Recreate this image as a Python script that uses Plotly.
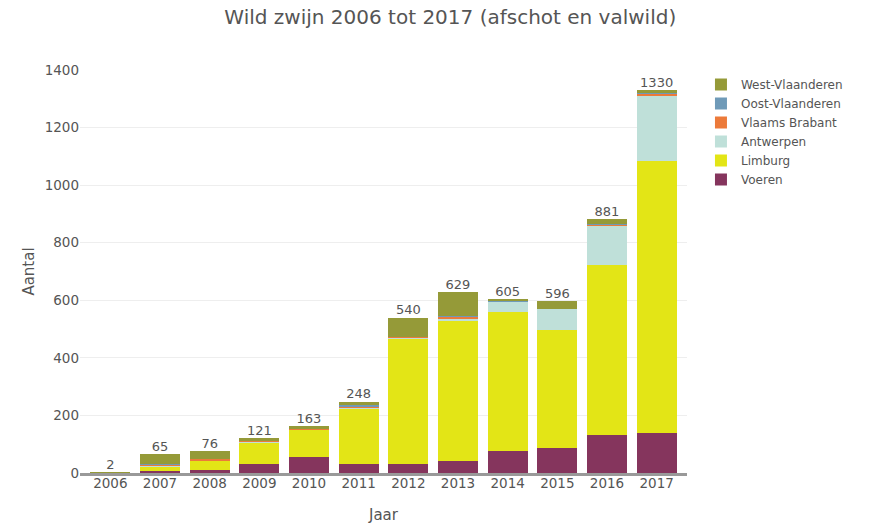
import plotly.graph_objects as go

years = ["2006", "2007", "2008", "2009", "2010", "2011", "2012", "2013", "2014", "2015", "2016", "2017"]

voeren = [0, 6, 11, 32, 55, 33, 32, 40, 78, 88, 132, 140]
limburg = [0, 16, 33, 73, 95, 192, 435, 488, 482, 410, 592, 945]
antwerpen = [0, 1, 1, 3, 2, 4, 3, 8, 36, 72, 135, 228]
vlaams_brabant = [0, 8, 2, 3, 1, 1, 3, 6, 1, 1, 5, 5]
oost_vlaanderen = [0, 1, 0, 0, 1, 5, 1, 5, 1, 0, 2, 3]
west_vlaanderen = [2, 33, 29, 10, 9, 13, 66, 82, 7, 25, 15, 9]

series = [
    ("Voeren", voeren, "#85355d"),
    ("Limburg", limburg, "#e3e516"),
    ("Antwerpen", antwerpen, "#bfe0d9"),
    ("Vlaams Brabant", vlaams_brabant, "#ec7a3a"),
    ("Oost-Vlaanderen", oost_vlaanderen, "#6f9ab8"),
    ("West-Vlaanderen", west_vlaanderen, "#959a38"),
]

totals = [sum(v) for v in zip(*[s[1] for s in series])]

FONT = "DejaVu Sans"
GREY = "#555555"

fig = go.Figure()
for name, vals, col in series:
    fig.add_trace(go.Bar(x=years, y=vals, name=name, marker=dict(color=col, line=dict(width=0))))

fig.add_trace(go.Scatter(
    x=years, y=totals, mode="text", text=[str(t) for t in totals],
    textposition="top center", showlegend=False, hoverinfo="skip",
    textfont=dict(family=FONT, size=13, color=GREY), cliponaxis=False,
))

fig.update_layout(
    width=871, height=526,
    barmode="stack", bargap=0.2,
    paper_bgcolor="white", plot_bgcolor="white",
    margin=dict(l=80, r=184, t=70, b=53, autoexpand=False),
    title=dict(text="Wild zwijn 2006 tot 2017 (afschot en valwild)", x=0.517, xanchor="center",
               xref="container", y=0.968, yref="container", yanchor="middle",
               font=dict(family=FONT, size=20, color=GREY)),
    font=dict(family=FONT, size=13, color=GREY),
    legend=dict(traceorder="reversed", x=1.023, xref="paper", xanchor="left", y=1.0, yanchor="top",
                font=dict(family=FONT, size=12, color=GREY), itemsizing="constant",
                tracegroupgap=0),
    xaxis=dict(title=dict(text="Jaar", font=dict(family=FONT, size=15, color=GREY), standoff=20),
               showline=True, linecolor="#999999", linewidth=2.5, ticks="", automargin=True,
               tickfont=dict(family=FONT, size=13.5, color=GREY)),
    yaxis=dict(title=dict(text="Aantal", font=dict(family=FONT, size=15, color=GREY), standoff=6),
               range=[0, 1400], dtick=200, showgrid=True, gridcolor="#eeeeee", gridwidth=1,
               zeroline=False, automargin=True, tickfont=dict(family=FONT, size=13.5, color=GREY)),
)
try:
    fig.update_xaxes(ticklabelstandoff=-4)
except Exception:
    pass

fig.write_html("out.html", config={"displayModeBar": False},
               post_script="document.body.style.margin='0';")
